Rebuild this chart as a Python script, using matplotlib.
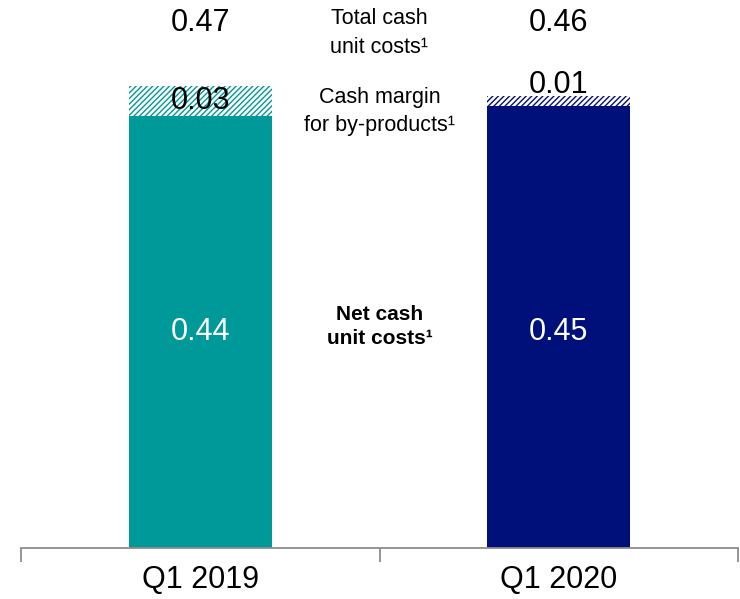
import matplotlib
matplotlib.use("Agg")
import matplotlib.pyplot as plt

categories = ["Q1 2019", "Q1 2020"]
net_cash = [0.44, 0.45]
by_product_margin = [0.03, 0.01]
total_cash = [0.47, 0.46]
colors = ["#009999", "#00107A"]

plt.rcParams['font.family'] = ['Liberation Sans', 'DejaVu Sans']

fig = plt.figure(figsize=(7.40, 5.99), dpi=100)
ax = fig.add_axes([21/740, 51/599, (738-21)/740, 548/599])
ax.set_xlim(-0.5, 1.5)
ax.set_ylim(0, 548/982)

x = list(range(len(categories)))
ax.bar(x, net_cash, width=0.4, color=colors, linewidth=0)
for i in x:
    ax.bar(i, by_product_margin[i], bottom=net_cash[i], width=0.4,
           facecolor="white", edgecolor=colors[i], hatch="//////", linewidth=0)

# value labels
for i in x:
    ax.text(i, 0.220, f"{net_cash[i]:.2f}", ha="center", va="center",
            color="white", fontsize=22)
    ax.text(i, 0.5346, f"{total_cash[i]:.2f}", ha="center", va="center", fontsize=22)
# by-product labels
ax.text(0, net_cash[0] + by_product_margin[0] / 2, f"{by_product_margin[0]:.2f}",
        ha="center", va="center", fontsize=22)
ax.text(1, net_cash[1] + by_product_margin[1] + 0.003, f"{by_product_margin[1]:.2f}",
        ha="center", va="baseline", fontsize=22)

ax.text(0.5, 0.5245, "Total cash\nunit costs¹", ha="center", va="center", fontsize=15.5,
        linespacing=1.5)
ax.text(0.5, 0.4445, "Cash margin\nfor by-products¹", ha="center", va="center", fontsize=15.5,
        linespacing=1.4)
ax.text(0.5, 0.2256, "Net cash\nunit costs¹", ha="center", va="center", fontsize=15,
        fontweight="bold", linespacing=1.3)

for s in ["top", "right", "left"]:
    ax.spines[s].set_visible(False)
ax.spines["bottom"].set_color("#8c8c8c")
ax.spines["bottom"].set_linewidth(1.3)
ax.set_yticks([])
ax.set_xticks(x)
ax.set_xticklabels(categories, fontsize=22)
ax.tick_params(axis="x", which="major", length=0, pad=12)
ax.set_xticks([-0.5, 0.5, 1.5], minor=True)
ax.tick_params(axis="x", which="minor", length=10, width=1.3, color="#8c8c8c")

fig.savefig("out.png", dpi=100)
